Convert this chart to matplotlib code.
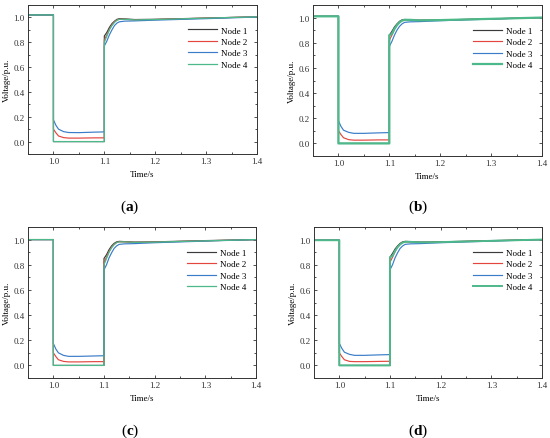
import matplotlib
matplotlib.use("Agg")
import matplotlib.pyplot as plt
from matplotlib.ticker import MultipleLocator

plt.rcParams['font.family'] = ['Liberation Serif', 'DejaVu Serif']
plt.rcParams['mathtext.fontset'] = 'custom'
plt.rcParams['mathtext.bf'] = 'Liberation Serif:bold'
plt.rcParams['mathtext.rm'] = 'Liberation Serif'

# shared time axis (duplicate instants give the vertical steps)
t = [0.95, 1.0, 1.0, 1.005, 1.01, 1.02, 1.03, 1.05, 1.08, 1.1, 1.1, 1.105, 1.11,
     1.115, 1.12, 1.125, 1.13, 1.14, 1.16, 1.2, 1.3, 1.4]

node_names = ["Node 1", "Node 2", "Node 3", "Node 4"]
node_colors = ["#3a3a3a", "#e2463f", "#3a7cc8", "#4db889"]
panel_labels = ["a", "b", "c", "d"]

# panel (a)
a_node1 = [1.02, 1.02, 0, 0, 0, 0, 0, 0, 0, 0, 0.85, 0.88, 0.92, 0.95, 0.97, 0.985, 0.99, 0.988, 0.983, 0.985, 0.995, 1.005]
a_node2 = [1.02, 1.02, 0.10, 0.07, 0.045, 0.032, 0.028, 0.028, 0.030, 0.030, 0.82, 0.86, 0.905, 0.94, 0.965, 0.98, 0.985, 0.985, 0.98, 0.983, 0.994, 1.005]
a_node3 = [1.02, 1.02, 0.175, 0.13, 0.10, 0.08, 0.073, 0.072, 0.076, 0.078, 0.77, 0.81, 0.86, 0.90, 0.935, 0.955, 0.965, 0.97, 0.972, 0.978, 0.99, 1.003]
a_node4 = [1.02, 1.02, 0, 0, 0, 0, 0, 0, 0, 0, 0.80, 0.85, 0.90, 0.935, 0.96, 0.978, 0.985, 0.985, 0.98, 0.983, 0.994, 1.005]

# panel (b)
b_node1 = [1.01, 1.01, 0, 0, 0, 0, 0, 0, 0, 0, 0.86, 0.89, 0.925, 0.95, 0.97, 0.982, 0.985, 0.983, 0.979, 0.981, 0.99, 1.0]
b_node2 = [1.01, 1.01, 0.10, 0.07, 0.045, 0.03, 0.026, 0.026, 0.028, 0.028, 0.82, 0.86, 0.905, 0.94, 0.962, 0.976, 0.982, 0.982, 0.978, 0.98, 0.99, 1.0]
b_node3 = [1.01, 1.01, 0.18, 0.135, 0.105, 0.088, 0.08, 0.08, 0.084, 0.086, 0.77, 0.81, 0.86, 0.90, 0.93, 0.95, 0.962, 0.966, 0.968, 0.975, 0.988, 1.0]
b_node4 = [1.01, 1.01, 0, 0, 0, 0, 0, 0, 0, 0, 0.86, 0.87, 0.91, 0.94, 0.962, 0.976, 0.982, 0.982, 0.978, 0.98, 0.99, 1.0]

# panel (c)
c_node1 = [1.0, 1.0, 0, 0, 0, 0, 0, 0, 0, 0, 0.85, 0.88, 0.92, 0.95, 0.97, 0.982, 0.986, 0.984, 0.98, 0.982, 0.992, 1.0]
c_node2 = [1.0, 1.0, 0.10, 0.07, 0.045, 0.032, 0.028, 0.028, 0.03, 0.03, 0.82, 0.86, 0.905, 0.94, 0.962, 0.976, 0.982, 0.982, 0.978, 0.98, 0.99, 1.0]
c_node3 = [1.0, 1.0, 0.175, 0.13, 0.10, 0.08, 0.072, 0.072, 0.075, 0.077, 0.76, 0.80, 0.855, 0.895, 0.93, 0.95, 0.962, 0.966, 0.968, 0.975, 0.988, 1.0]
c_node4 = [1.0, 1.0, 0, 0, 0, 0, 0, 0, 0, 0, 0.80, 0.85, 0.90, 0.935, 0.96, 0.976, 0.982, 0.982, 0.978, 0.98, 0.99, 1.0]

# panel (d)
d_node1 = [0.995, 0.995, 0, 0, 0, 0, 0, 0, 0, 0, 0.86, 0.89, 0.925, 0.95, 0.97, 0.982, 0.986, 0.984, 0.98, 0.982, 0.992, 1.0]
d_node2 = [0.995, 0.995, 0.10, 0.07, 0.045, 0.032, 0.03, 0.03, 0.032, 0.033, 0.82, 0.86, 0.905, 0.94, 0.962, 0.976, 0.982, 0.982, 0.978, 0.98, 0.99, 1.0]
d_node3 = [0.995, 0.995, 0.175, 0.135, 0.105, 0.088, 0.08, 0.08, 0.084, 0.086, 0.76, 0.80, 0.855, 0.895, 0.93, 0.95, 0.962, 0.966, 0.968, 0.975, 0.988, 1.0]
d_node4 = [0.995, 0.995, 0, 0, 0, 0, 0, 0, 0, 0, 0.86, 0.87, 0.91, 0.94, 0.962, 0.976, 0.982, 0.982, 0.978, 0.98, 0.99, 1.0]

panels = [
    [a_node1, a_node2, a_node3, a_node4],
    [b_node1, b_node2, b_node3, b_node4],
    [c_node1, c_node2, c_node3, c_node4],
    [d_node1, d_node2, d_node3, d_node4],
]
green_widths = [0.9, 1.6, 0.9, 1.4]

xticks = [1.0, 1.1, 1.2, 1.3, 1.4]
yticks = [0.0, 0.2, 0.4, 0.6, 0.8, 1.0]

W, H = 550, 439
fig = plt.figure(figsize=(5.5, 4.39), dpi=100)

# axes boxes in pixels: left, top, right, bottom
boxes = [(28, 6, 257, 155), (313, 6, 542, 157), (28, 228, 256, 379), (314, 228, 542, 379)]
label_pos = [(130, 207), (418, 207), (130, 431), (418, 431)]

FS = 6.5
for i, (box, series) in enumerate(zip(boxes, panels)):
    l, tp, r, b = box
    ax = fig.add_axes([l / W, 1 - b / H, (r - l) / W, (b - tp) / H])
    for j, (name, col, vals) in enumerate(zip(node_names, node_colors, series)):
        lw = green_widths[i] if j == 3 else 0.85
        ax.plot(t, vals, color=col, lw=lw, label=name)
    ax.set_xlim(0.95, 1.4)
    ax.set_ylim(-0.1, 1.1)
    ax.set_xticks(xticks)
    ax.set_yticks(yticks)
    ax.set_xticklabels([f"{v:.1f}" for v in xticks])
    ax.set_yticklabels([f"{v:.1f}" for v in yticks])
    ax.xaxis.set_minor_locator(MultipleLocator(0.05))
    ax.yaxis.set_minor_locator(MultipleLocator(0.1))
    ax.tick_params(which='both', direction='in', top=True, right=True,
                   labelsize=FS, width=0.6, colors='#333333', pad=2.5)
    ax.tick_params(which='major', length=2.5)
    ax.tick_params(which='minor', length=1.5)
    for sp in ax.spines.values():
        sp.set_linewidth(0.7)
        sp.set_color('#333333')
    ax.set_xlabel("Time/s", fontsize=FS, labelpad=3)
    ax.set_ylabel("Voltage/p.u.", fontsize=FS, labelpad=2)
    leg = ax.legend(loc='upper right', bbox_to_anchor=(0.985, 0.9), fontsize=FS,
                    frameon=False, handlelength=3.2, handletextpad=0.4,
                    labelspacing=0.35, borderaxespad=0.3)
    lx, ly = label_pos[i]
    fig.text(lx / W, 1 - ly / H, r"($\mathbf{" + panel_labels[i] + r"}$)",
             fontsize=11, ha='center', va='center')

fig.savefig("out.png", dpi=100, facecolor='white')
